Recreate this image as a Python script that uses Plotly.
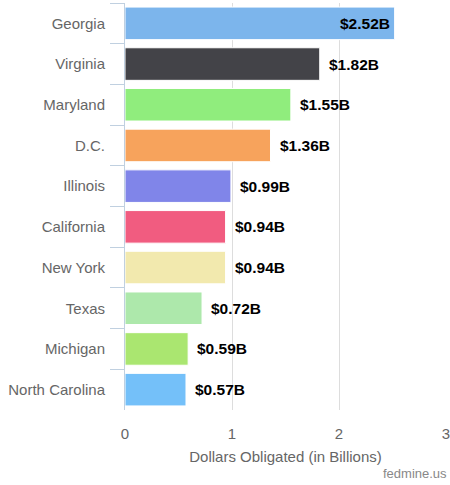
import plotly.graph_objects as go

states = ["Georgia", "Virginia", "Maryland", "D.C.", "Illinois", "California",
          "New York", "Texas", "Michigan", "North Carolina"]
values = [2.52, 1.82, 1.55, 1.36, 0.99, 0.94, 0.94, 0.72, 0.59, 0.57]
labels = ["$2.52B", "$1.82B", "$1.55B", "$1.36B", "$0.99B", "$0.94B",
          "$0.94B", "$0.72B", "$0.59B", "$0.57B"]
colors = ["#7cb5ec", "#434348", "#90ed7d", "#f7a35c", "#8085e9", "#f15c80",
          "#f2e9ae", "#ade8ab", "#aae670", "#74c0f9"]
inside = [True] + [False] * 9
x_ticks = [0, 1, 2, 3]

FONT = "Liberation Sans, Arial, sans-serif"

fig = go.Figure(go.Bar(
    y=states, x=values, orientation="h",
    marker=dict(color=colors, line=dict(color="white", width=1)),
    width=0.8,
    hoverinfo="skip",
))

annotations = []
for s, v, lab, ins in zip(states, values, labels, inside):
    annotations.append(dict(
        x=v, y=s, xref="x", yref="y", text=lab, showarrow=False,
        xanchor="right" if ins else "left", xshift=-3 if ins else 7,
        font=dict(family=FONT, size=15.5, color="black", weight="bold"),
    ))
annotations.append(dict(
    text="fedmine.us", x=1, y=-0.155, xref="paper", yref="paper",
    xanchor="right", yanchor="middle", xshift=3, showarrow=False,
    font=dict(family=FONT, size=13, color="#888888"),
))

fig.update_layout(
    width=450, height=485,
    margin=dict(l=125, r=4, t=3, b=75),
    paper_bgcolor="white", plot_bgcolor="white",
    showlegend=False,
    font=dict(family=FONT, color="#666666"),
    xaxis=dict(
        range=[0, 3], tickvals=x_ticks, ticktext=[str(t) for t in x_ticks],
        showgrid=True, gridcolor="#dddddd", gridwidth=1,
        zeroline=False, showline=False, automargin=False,
        tickfont=dict(size=15, color="#666666"),
        ticks="", ticklabelstandoff=13, ticklabeloverflow="allow",
        title=dict(text="Dollars Obligated (in Billions)", font=dict(size=15, color="#666666"), standoff=10),
    ),
    yaxis=dict(
        autorange="reversed", automargin=False,
        showline=True, linecolor="#c0d0e0", linewidth=1,
        ticks="outside", tickson="boundaries", ticklen=14, tickcolor="#c0d0e0",
        tickfont=dict(size=15, color="#666666"), ticklabelstandoff=16,
        showgrid=False,
    ),
    annotations=annotations,
)

fig.write_html("out.html", config={"displayModeBar": False},
               post_script="document.body.style.margin='0';")
